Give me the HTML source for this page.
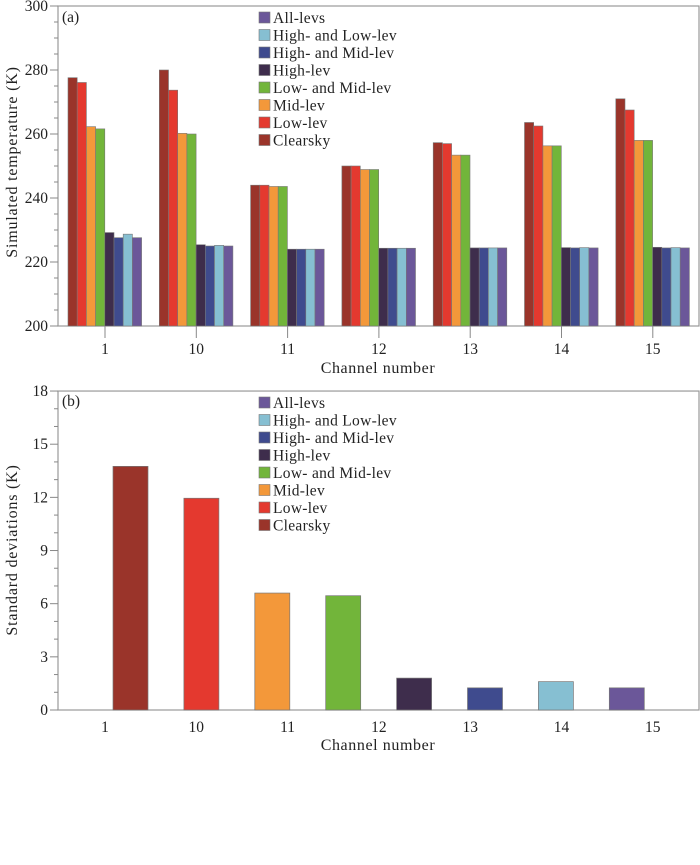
<!DOCTYPE html>
<html><head><meta charset="utf-8"><style>
body{margin:0;background:#fff;}
svg text{font-family:"Liberation Serif",serif;fill:#222;}
</style></head><body>
<svg id="c" width="700" height="860"></svg>
<script>
const channels=["1","10","11","12","13","14","15"];
const series=["Clearsky","Low-lev","Mid-lev","Low- and  Mid-lev","High-lev","High- and  Mid-lev","High- and  Low-lev","All-levs"];
const colors=["#9a342a","#e4392f","#f3983a","#72b53a","#3e2d4c","#3f4b8e","#86bfd2","#6b5799"];
const clearsky=[277.6,280,244,250,257.3,263.6,271];
const lowLev=[276.1,273.7,244,250,257,262.5,267.5];
const midLev=[262.3,260.2,243.6,248.9,253.4,256.3,258];
const lowMid=[261.6,260,243.6,248.9,253.4,256.3,258];
const highLev=[229.2,225.4,224,224.3,224.4,224.5,224.6];
const highMid=[227.6,225,224,224.3,224.4,224.4,224.4];
const highLow=[228.7,225.2,224,224.3,224.4,224.5,224.5];
const allLevs=[227.6,225,224,224.3,224.4,224.4,224.4];
const topTicks=[200,220,240,260,280,300];
const stdValues=[13.75,11.95,6.6,6.45,1.8,1.25,1.6,1.25];
const botTicks=[0,3,6,9,12,15,18];

const NS="http://www.w3.org/2000/svg";
const svg=document.getElementById('c');
function el(t,a,txt){const e=document.createElementNS(NS,t);for(const k in a)e.setAttribute(k,a[k]);if(txt!=null)e.textContent=txt;svg.appendChild(e);return e;}
const L=58,R=699;
const xC=i=>105+i*91.3;
const yT=v=>326-(v-200)*3.2;
let f=el('rect',{x:L,y:6,width:R-L,height:320,fill:'none',stroke:'#999','stroke-width':1.2});

for(let v=200;v<=300;v+=5){const big=v%20===0;let t=el('line',{x1:L-(big?8:4),x2:L,y1:yT(v),y2:yT(v),stroke:'#888'});}
topTicks.forEach(v=>{let t=el('text',{x:L-10,y:yT(v)+5,'text-anchor':'end','font-size':15.5},v);});
const all=[clearsky,lowLev,midLev,lowMid,highLev,highMid,highLow,allLevs];
channels.forEach((c,i)=>{
 all.forEach((arr,s)=>{const x=xC(i)-37+s*9.2;let b=el('rect',{x:x,y:yT(arr[i]),width:9.2,height:326-yT(arr[i]),fill:colors[s],stroke:'#777','stroke-width':0.6});});
 let tk=el('line',{x1:xC(i),x2:xC(i),y1:326,y2:338,stroke:'#888'});
 let t=el('text',{x:xC(i),y:354,'text-anchor':'middle','font-size':15.5},c);
});
let ta=el('text',{x:62,y:22,'font-size':15.5},'(a)');
let yta=el('text',{x:0,y:0,'font-size':16,'letter-spacing':0.8,'text-anchor':'middle',transform:'translate(17,162) rotate(-90)'},'Simulated  temperature  (K)');
let xta=el('text',{x:378,y:373,'font-size':16,'letter-spacing':0.6,'text-anchor':'middle'},'Channel  number');
function legend(y0,tag){for(let k=0;k<8;k++){const s=7-k;const y=y0+k*17.5;let r=el('rect',{x:259,y:y-6,width:11,height:11,fill:colors[s],stroke:'#777','stroke-width':0.6});let t=el('text',{x:273,y:y+5,'font-size':15.5,'letter-spacing':0.3},series[s]);}}
legend(18,'a');
const yB=v=>710-v*17.72;
let f2=el('rect',{x:L,y:yB(18),width:R-L,height:710-yB(18),fill:'none',stroke:'#999','stroke-width':1.2});

for(let v=0;v<=18;v++){const big=v%3===0;let t=el('line',{x1:L-(big?8:4),x2:L,y1:yB(v),y2:yB(v),stroke:'#888'});}
botTicks.forEach(v=>{let t=el('text',{x:L-10,y:yB(v)+5,'text-anchor':'end','font-size':15.5},v);});
stdValues.forEach((v,s)=>{const x=113+s*70.9;let b=el('rect',{x:x,y:yB(v),width:35,height:710-yB(v),fill:colors[s],stroke:'#777','stroke-width':0.7});});
channels.forEach((c,i)=>{let t=el('text',{x:xC(i),y:732,'text-anchor':'middle','font-size':15.5},c);});
let tb=el('text',{x:62,y:406,'font-size':15.5},'(b)');
let ytb=el('text',{x:0,y:0,'font-size':16,'letter-spacing':0.8,'text-anchor':'middle',transform:'translate(17,550) rotate(-90)'},'Standard  deviations  (K)');
let xtb=el('text',{x:378,y:750,'font-size':16,'letter-spacing':0.6,'text-anchor':'middle'},'Channel  number');
legend(403,'b');
</script>
</body></html>
